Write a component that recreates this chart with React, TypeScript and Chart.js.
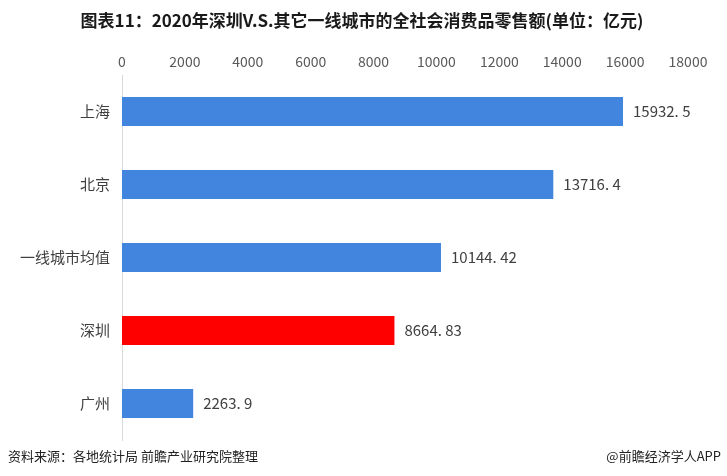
import React, { useEffect, useRef } from "react";
import { Chart, registerables } from "chart.js";

Chart.register(...registerables);

const categories = ["上海", "北京", "一线城市均值", "深圳", "广州"];
const values = [15932.5, 13716.4, 10144.42, 8664.83, 2263.9];
const valueLabels = ["15932. 5", "13716. 4", "10144. 42", "8664. 83", "2263. 9"];
const barColors = ["#4285de", "#4285de", "#4285de", "#ff0000", "#4285de"];
const xTicks = [0, 2000, 4000, 6000, 8000, 10000, 12000, 14000, 16000, 18000];

const titleText = "图表11：2020年深圳V.S.其它一线城市的全社会消费品零售额(单位：亿元)";
const sourceText = "资料来源：各地统计局 前瞻产业研究院整理";
const creditText = "@前瞻经济学人APP";

const FONT = '"Noto Sans CJK SC", "Noto Sans", sans-serif';

const decorPlugin = {
  id: "decor",
  afterDatasetsDraw(chart: any) {
    const ctx = chart.ctx;
    ctx.save();
    // value labels
    const meta = chart.getDatasetMeta(0);
    ctx.font = `15px ${FONT}`;
    ctx.fillStyle = "#404040";
    ctx.textAlign = "left";
    ctx.textBaseline = "middle";
    meta.data.forEach((bar: any, i: number) => {
      ctx.fillText(valueLabels[i], bar.x + 10, bar.y);
    });
    // title
    ctx.font = `bold 17px ${FONT}`;
    ctx.fillStyle = "#1a1a1a";
    ctx.textAlign = "center";
    ctx.fillText(titleText, 362, 21);
    // footer
    ctx.font = `13px ${FONT}`;
    ctx.fillStyle = "#222222";
    ctx.textAlign = "left";
    ctx.fillText(sourceText, 8, 456);
    ctx.textAlign = "right";
    ctx.fillText(creditText, 721, 456);
    ctx.restore();
  },
};

export default function App() {
  const ref = useRef<HTMLCanvasElement>(null);
  useEffect(() => {
    if (!ref.current) return;
    const chart = new Chart(ref.current, {
      type: "bar",
      data: {
        labels: categories,
        datasets: [
          {
            data: values,
            backgroundColor: barColors,
            categoryPercentage: 1,
            barPercentage: 0.4,
          },
        ],
      },
      options: {
        indexAxis: "y",
        responsive: false,
        animation: false,
        layout: { padding: { top: 45, bottom: 36, left: 0, right: 39 } },
        plugins: {
          legend: { display: false },
          tooltip: { enabled: false },
          title: { display: false },
        },
        scales: {
          x: {
            position: "top",
            min: 0,
            max: 18000,
            afterBuildTicks: (scale: any) => {
              scale.ticks = xTicks.map((v) => ({ value: v }));
            },
            afterFit: (scale: any) => {
              scale.height = 30;
            },
            grid: { display: false, drawTicks: false },
            border: { display: false },
            ticks: {
              padding: 5,
              color: "#595959",
              font: { family: FONT, size: 14 },
              maxRotation: 0,
              autoSkip: false,
              callback: (v: any) => String(v),
            },
          },
          y: {
            afterFit: (scale: any) => {
              scale.width = 122;
            },
            grid: { display: false, drawTicks: false },
            border: { display: true, color: "#d9d9d9", width: 1 },
            ticks: {
              padding: 12,
              color: "#404040",
              font: { family: FONT, size: 15 },
            },
          },
        },
      },
      plugins: [decorPlugin],
    });
    return () => chart.destroy();
  }, []);
  return (
    <div style={{ position: "fixed", left: 0, top: 0, width: 727, height: 476, background: "#fff" }}>
      <canvas ref={ref} width={727} height={476} />
    </div>
  );
}
